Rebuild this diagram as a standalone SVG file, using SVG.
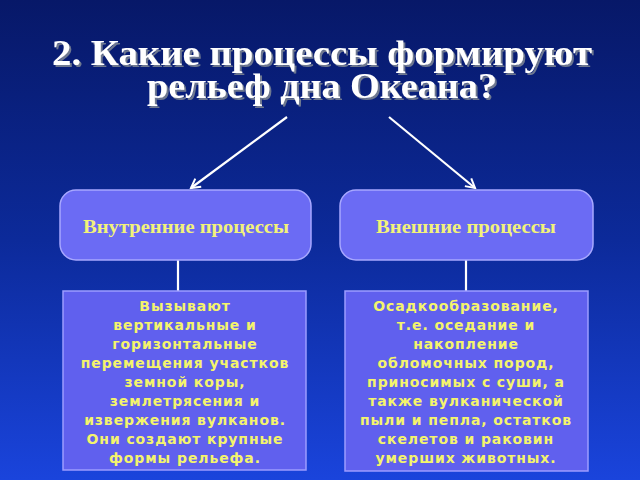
<svg xmlns="http://www.w3.org/2000/svg" width="640" height="480" viewBox="0 0 640 480">
<defs>
<linearGradient id="bg" x1="0" y1="0" x2="0" y2="1">
<stop offset="0" stop-color="#071868"/>
<stop offset="0.5" stop-color="#0c2a9a"/>
<stop offset="1" stop-color="#1a44dc"/>
</linearGradient>
<marker id="ah" markerWidth="12" markerHeight="12" refX="10" refY="6" orient="auto" markerUnits="userSpaceOnUse">
<path d="M1,1 L10,6 L1,11" fill="none" stroke="#ffffff" stroke-width="2"/>
</marker>
<filter id="sh" x="-5%" y="-20%" width="110%" height="140%">
<feOffset dx="2" dy="2" in="SourceAlpha" result="o"/>
<feFlood flood-color="#6e7890"/>
<feComposite in2="o" operator="in" result="s"/>
<feMerge><feMergeNode in="s"/><feMergeNode in="SourceGraphic"/></feMerge>
</filter>
</defs>
<style>
.title{font-family:"Liberation Serif","Times New Roman",serif;font-weight:bold;font-size:36px;fill:#ffffff;text-anchor:middle}
.head{fill:#6b6bf4;stroke:#a8a8ff;stroke-width:1.5}
.headt{font-family:"Liberation Serif","Times New Roman",serif;font-weight:bold;font-size:18px;fill:#f2f27a;text-anchor:middle}
.box{fill:#6060ee;stroke:#9c9cff;stroke-width:1.5}
.body{font-family:"DejaVu Sans","Verdana",sans-serif;font-weight:bold;font-size:14px;fill:#f4f46c;text-anchor:middle;letter-spacing:0.9px}
.conn line{stroke:#ffffff;stroke-width:2.2}
</style>
<rect width="640" height="480" fill="url(#bg)"/>
<g id="title" filter="url(#sh)">
<text class="title" x="322" y="65" textLength="540" lengthAdjust="spacingAndGlyphs">2. Какие процессы формируют</text>
<text class="title" x="322" y="98" textLength="350" lengthAdjust="spacingAndGlyphs">рельеф дна Океана?</text>
</g>
<g id="connectors" class="conn">
<line x1="287" y1="117" x2="191" y2="188" marker-end="url(#ah)"/>
<line x1="389" y1="117" x2="475" y2="188" marker-end="url(#ah)"/>
<line x1="178" y1="260" x2="178" y2="298"/>
<line x1="466" y1="260" x2="466" y2="298"/>
</g>
<g id="internal">
<rect class="head" x="60" y="190" width="251" height="70" rx="16" ry="16"/>
<text class="headt" x="186" y="233" textLength="206" lengthAdjust="spacingAndGlyphs">Внутренние процессы</text>
</g>
<g id="external">
<rect class="head" x="340" y="190" width="253" height="70" rx="16" ry="16"/>
<text class="headt" x="466" y="233" textLength="180" lengthAdjust="spacingAndGlyphs">Внешние процессы</text>
</g>
<g id="internal-desc">
<rect class="box" x="63" y="291" width="243" height="179"/>
<text class="body" x="185" y="311">Вызывают</text>
<text class="body" x="185" y="330">вертикальные и</text>
<text class="body" x="185" y="349">горизонтальные</text>
<text class="body" x="185" y="368">перемещения участков</text>
<text class="body" x="185" y="387">земной коры,</text>
<text class="body" x="185" y="406">землетрясения и</text>
<text class="body" x="185" y="425">извержения вулканов.</text>
<text class="body" x="185" y="444">Они создают крупные</text>
<text class="body" x="185" y="463">формы рельефа.</text>
</g>
<g id="external-desc">
<rect class="box" x="345" y="291" width="243" height="180"/>
<text class="body" x="466" y="311">Осадкообразование,</text>
<text class="body" x="466" y="330">т.е. оседание и</text>
<text class="body" x="466" y="349">накопление</text>
<text class="body" x="466" y="368">обломочных пород,</text>
<text class="body" x="466" y="387">приносимых с суши, а</text>
<text class="body" x="466" y="406">также вулканической</text>
<text class="body" x="466" y="425">пыли и пепла, остатков</text>
<text class="body" x="466" y="444">скелетов и раковин</text>
<text class="body" x="466" y="463">умерших животных.</text>
</g>
</svg>
